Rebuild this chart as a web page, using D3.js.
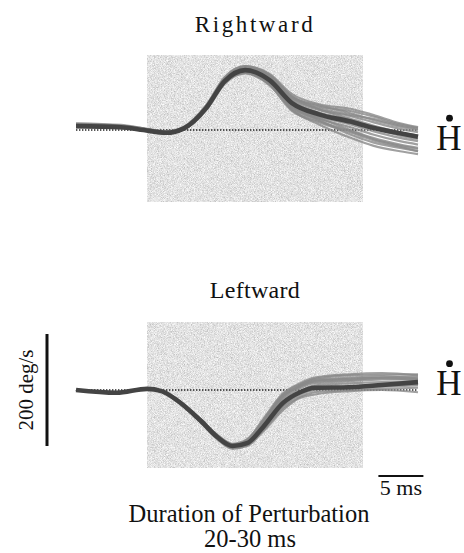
<!DOCTYPE html>
<html>
<head>
<meta charset="utf-8">
<script src="https://cdn.jsdelivr.net/npm/d3@7"></script>
<style>
  body { margin: 0; background: #fff; }
  svg text { font-family: "Liberation Serif", "DejaVu Serif", serif; fill: #111; }
</style>
</head>
<body>
<div id="chart"></div>
<script>
// time in ms, head velocity in deg/s
var perturbation = [7.9, 31.8];

var rightTimes = [0, 5, 7.5, 10, 12, 14.5, 16.5, 18.8, 21.5, 24, 27, 30.5, 33, 36, 38];
var rightMean  = [7, 5, 0, -5, 3, 40, 87, 107, 89, 48, 28, 15, 4, -6, -12];
var rightTrials = [
  [9, 6, 1, -4, 4, 42, 91, 112, 97, 60, 42, 34, 24, 10, 4],
  [8, 5, 0, -5, 2, 38, 85, 103, 83, 40, 20, 5, -8, -20, -26],
  [10, 7, 2, -3, 5, 44, 93, 114, 100, 64, 46, 38, 27, 12, 5],
  [6, 4, -1, -6, 1, 36, 82, 101, 80, 34, 14, -4, -18, -30, -38],
  [11, 8, 3, -3, 4, 41, 88, 109, 94, 55, 36, 25, 14, 2, -4],
  [7, 5, 0, -4, 3, 39, 86, 105, 86, 44, 24, 10, -2, -14, -20],
  [12, 9, 3, -2, 6, 45, 94, 114, 99, 60, 37, 20, 8, -4, -10],
  [5, 3, -1, -6, 2, 37, 83, 102, 81, 36, 10, -14, -28, -38, -43],
  [9, 6, 1, -5, 3, 40, 88, 109, 92, 52, 31, 18, 4, -10, -16],
  [10, 7, 2, -4, 4, 42, 89, 106, 88, 42, 22, 0, -14, -26, -32],
  [8, 6, 1, -4, 3, 41, 88, 110, 96, 58, 44, 30, 18, 6, 0],
  [7, 5, 0, -5, 2, 39, 85, 104, 84, 43, 18, -8, -22, -32, -38],
  [10, 7, 2, -3, 4, 43, 90, 111, 95, 57, 39, 27, 20, 8, 2],
  [6, 4, 0, -5, 2, 38, 84, 103, 82, 38, 16, -2, -16, -28, -34]
];

var leftTimes = [0, 4.5, 7.9, 9.5, 11.2, 13.8, 15.7, 17.4, 19, 20.8, 23, 24.9, 26.5, 30.4, 34, 38];
var leftMean  = [0, -5, 2, -2, -18, -54, -84, -100, -95, -66, -23, -4, 4, 5, 9, 14];
var leftTrials = [
  [0, -5, 2, -2, -17, -52, -82, -98, -90, -56, -10, 6, 16, 20, 22, 24],
  [0, -5, 2, -2, -19, -56, -87, -103, -98, -72, -32, -12, -4, 0, 2, 4],
  [0, -5, 2, -2, -18, -53, -83, -99, -92, -60, -14, 8, 20, 26, 27, 28],
  [0, -5, 2, -2, -18, -55, -86, -104, -100, -74, -36, -14, -8, -2, 0, -4],
  [0, -5, 2, -2, -17, -51, -80, -96, -88, -54, -8, 10, 18, 22, 24, 21],
  [0, -5, 2, -2, -18, -54, -85, -101, -96, -66, -24, -2, 8, 12, 14, 16],
  [0, -5, 2, -2, -19, -57, -88, -105, -99, -70, -28, -6, 2, 6, 10, 10],
  [0, -5, 2, -2, -17, -52, -81, -97, -89, -52, -6, 12, 22, 28, 30, 26],
  [0, -5, 2, -2, -18, -53, -84, -100, -93, -62, -18, 3, 12, 16, 19, 20],
  [0, -5, 2, -2, -18, -55, -85, -102, -97, -68, -28, -8, 0, 4, 6, 8],
  [0, -5, 2, -2, -17, -52, -82, -98, -91, -58, -12, 7, 15, 18, 21, 18]
];

var scaleVel = 200;   // deg/s
var scaleTime = 5;    // ms

var width = 464;
var height = 553;

var x = d3.scaleLinear()
  .domain([0, 38])
  .range([76, 418]);

var svg = d3.select("#chart").append("svg")
    .attr("width", width)
    .attr("height", height)
    .attr("font-family", "Liberation Serif, serif");

// grainy gray fill for the perturbation window
var filter = svg.append("defs").append("filter")
    .attr("id", "grain")
    .attr("x", 0).attr("y", 0)
    .attr("width", "100%").attr("height", "100%");
filter.append("feTurbulence")
    .attr("type", "fractalNoise")
    .attr("baseFrequency", 1.3)
    .attr("numOctaves", 1)
    .attr("seed", 4)
    .attr("result", "noise");
filter.append("feColorMatrix")
    .attr("in", "noise")
    .attr("type", "matrix")
    .attr("values", "0.8 0 0 0 0.36  0.8 0 0 0 0.36  0.8 0 0 0 0.36  0 0 0 0 1");

function drawPanel(opts) {
  var y = d3.scaleLinear()
    .domain([-200, 200])
    .range([opts.zero + 112, opts.zero - 112]);

  var g = svg.append("g");

  g.append("rect")
    .attr("x", x(perturbation[0]))
    .attr("width", x(perturbation[1]) - x(perturbation[0]))
    .attr("y", opts.boxTop)
    .attr("height", opts.boxBottom - opts.boxTop)
    .attr("fill", "#c2c2c2")
    .attr("filter", "url(#grain)");

  g.append("line")
    .attr("x1", x(0))
    .attr("x2", x(38))
    .attr("y1", y(0))
    .attr("y2", y(0))
    .attr("stroke", "#222")
    .attr("stroke-width", 1.6)
    .attr("stroke-dasharray", "1.4,1.6");

  var line = d3.line()
    .x(function(d, i) { return x(opts.times[i]); })
    .y(function(d) { return y(d); })
    .curve(d3.curveMonotoneX);

  g.selectAll(".trial")
    .data(opts.trials)
    .enter()
    .append("path")
    .attr("class", "trial")
    .attr("d", line)
    .attr("fill", "none")
    .attr("stroke", "#888")
    .attr("stroke-width", 2.2)
    .attr("stroke-opacity", 0.8);

  g.append("path")
    .attr("d", line(opts.mean))
    .attr("fill", "none")
    .attr("stroke", "#444")
    .attr("stroke-width", 4.6);

  g.append("text")
    .attr("x", 255)
    .attr("y", opts.titleY)
    .attr("text-anchor", "middle")
    .attr("font-size", opts.titleSize)
    .attr("letter-spacing", opts.titleSpacing)
    .text(opts.title);

  // H-dot label next to the trace end
  var endY = y(opts.mean[opts.mean.length - 1]);
  g.append("text")
    .attr("x", 449)
    .attr("y", endY + 13)
    .attr("text-anchor", "middle")
    .attr("font-size", 35)
    .text("H");
  g.append("circle")
    .attr("cx", 449.5)
    .attr("cy", endY - 18.5)
    .attr("r", 3.4)
    .attr("fill", "#111");

  return y;
}

drawPanel({
  title: "Rightward", titleY: 32, titleSize: 23, titleSpacing: 2.6,
  zero: 130, boxTop: 55, boxBottom: 202,
  times: rightTimes, mean: rightMean, trials: rightTrials
});

var yLeft = drawPanel({
  title: "Leftward", titleY: 298, titleSize: 24, titleSpacing: 0.3,
  zero: 390, boxTop: 322, boxBottom: 468,
  times: leftTimes, mean: leftMean, trials: leftTrials
});

// vertical calibration bar
svg.append("line")
  .attr("x1", 47).attr("x2", 47)
  .attr("y1", yLeft(scaleVel / 2))
  .attr("y2", yLeft(-scaleVel / 2))
  .attr("stroke", "#111")
  .attr("stroke-width", 3);

svg.append("text")
  .attr("transform", "translate(33," + yLeft(0) + ") rotate(-90)")
  .attr("text-anchor", "middle")
  .attr("font-size", 21)
  .text(scaleVel + " deg/s");

// horizontal time bar
svg.append("line")
  .attr("x1", x(33.6))
  .attr("x2", x(33.6 + scaleTime))
  .attr("y1", 476).attr("y2", 476)
  .attr("stroke", "#111")
  .attr("stroke-width", 2);

svg.append("text")
  .attr("x", (x(33.6) + x(33.6 + scaleTime)) / 2)
  .attr("y", 495)
  .attr("text-anchor", "middle")
  .attr("font-size", 22)
  .text(scaleTime + " ms");

svg.append("text")
  .attr("x", 249)
  .attr("y", 522)
  .attr("text-anchor", "middle")
  .attr("font-size", 24.5)
  .text("Duration of Perturbation");

svg.append("text")
  .attr("x", 250)
  .attr("y", 547)
  .attr("text-anchor", "middle")
  .attr("font-size", 24.5)
  .text("20-30 ms");
</script>
</body>
</html>
